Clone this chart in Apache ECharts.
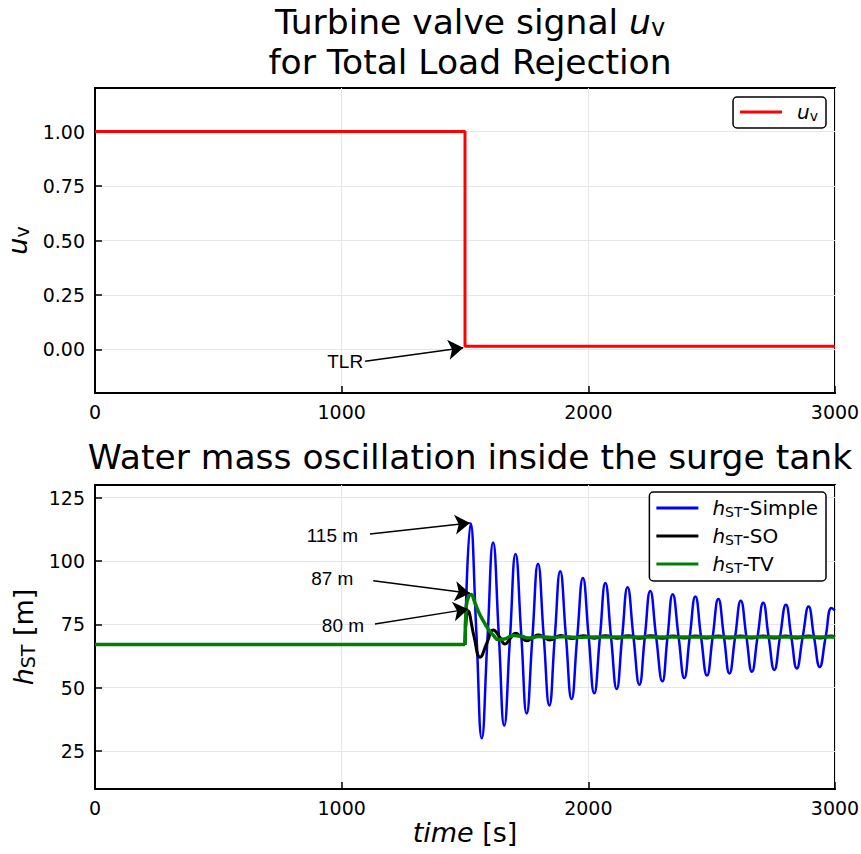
<!DOCTYPE html>
<html>
<head>
<meta charset="utf-8">
<script src="https://cdn.jsdelivr.net/npm/echarts@6/dist/echarts.min.js"></script>
<style>html,body{margin:0;padding:0;background:#fff}#c{width:861px;height:854px}</style>
</head>
<body>
<div id="c"></div>
<script>
// ---------- data ----------
const xTicks = [0, 1000, 2000, 3000];
const uTicks = [0, 0.25, 0.5, 0.75, 1.0];
const hTicks = [25, 50, 75, 100, 125];

// turbine valve signal (step at TLR)
const uvT = [0, 1500, 1500, 3000];
const uvV = [1.0, 1.0, 0.015, 0.015];

// initial steady level of all surge-tank models
const flatT = [0, 1500];
const flatV = [67, 67];

// h_ST - Simple model
const simpleT = [
  1500,1523,1546,1568,1591,1614,1637,1659,1682,1705,
  1728,1750,1773,1796,1819,1842,1864,1886,1909,1932,
  1955,1978,2001,2024,2047,2069,2092,2115,2137,2159,
  2183,2207,2229,2251,2275,2300,2321,2342,2366,2389,
  2411,2434,2457,2481,2504,2527,2550,2572,2595,2618,
  2641,2663,2686,2709,2731,2754,2777,2801,2823,2845,
  2869,2893,2915,2938,2962,2986,3000];
const simpleV = [
  67,114.8,72,30,69,107.3,71,35,69,102.8,
  71,39.8,69.5,98.9,70.5,43,70,96,70.5,45.5,
  70,93.3,70.5,47.8,70,91.3,70,49.5,70,89.6,
  70,51.2,70,88.2,70,52.5,70,86.9,70,53.8,
  70,86,70,54.8,70,85,70,55.6,70,84.3,
  70,56.3,70,83.5,70,57,70,82.7,70,57.6,
  70,82,70,58.2,70,81.4,80.5];

// h_ST - SO model
const soT = [1500,1513,1537,1561,1590,1615,1640,1662,1684,1705,1728,1750,1774,1797,1820,1842,
  1888,1932,1978,2024,2070,2115,2161,2207,2253,2300,2344,2389,2435,2480,2527,2571,2618,2662,
  2709,2754,2800,2845,2892,2939,2984,3000];
const soV = [67,80.3,70,62,68,72.8,70,67.2,69.5,71.5,70,68.5,69.8,70.8,70,68.8,
  70.6,69.4,70.5,69.5,70.5,69.5,70.45,69.55,70.45,69.55,70.4,69.6,70.4,69.6,70.4,69.6,70.4,69.6,
  70.35,69.65,70.35,69.65,70.35,69.65,70.35,70];

// h_ST - TV model
const tvT = [1500,1505,1515,1524,1540,1557,1574,1595,1615,1635,1660,1696,1730,1760,1800,1850,1900,1950,2000,2200,2400,2600,2800,3000];
const tvV = [67,82,86,86.8,83.5,79.5,76.4,73,70.7,69,69.2,70.6,70.2,69.6,70.2,69.8,70.1,69.9,70,70,70,70,70,70];

// annotations
const tlrText = 'TLR';
const tlrFrom = [1095, -0.054];
const tlrTo = [1493, 0.008];
const peakTexts = ['115 m', '87 m', '80 m'];
const peakFrom = [[1115, 110.7], [1128, 92.2], [1135, 75.1]];
const peakTo = [[1520, 115], [1520, 87.3], [1513, 81]];
const peakLabelGap = [12, 20, 11];

// ---------- helpers ----------
const zip = (a, b) => a.map((v, i) => [v, b[i]]);
const FONT = 'DejaVu Sans';
const ARIAL = 'Liberation Sans';
const sub = {
  i: { fontStyle: 'italic', fontSize: 20, fontFamily: FONT, color: '#000' },
  s: { fontSize: 14, fontFamily: FONT, color: '#000', padding: [8, 0, 0, 0] }
};
function axisCommonX(gridIndex, showName) {
  return {
    type: 'value', gridIndex, min: 0, max: 3000, interval: 1000,
    axisLine: { show: true, onZero: false, lineStyle: { color: '#000', width: 2 } },
    axisTick: { show: true, inside: true, length: 7, lineStyle: { color: '#000', width: 1.5 } },
    axisLabel: { color: '#000', fontSize: 19, fontFamily: FONT, margin: 9, formatter: v => String(v) },
    splitLine: { show: true, lineStyle: { color: '#e6e6e6', width: 1 } },
    name: showName ? '{i|time} [s]' : '',
    nameLocation: 'middle', nameGap: 30,
    nameTextStyle: { fontSize: 27, fontFamily: FONT, color: '#000',
      rich: { i: { fontStyle: 'italic', fontSize: 27, fontFamily: FONT, color: '#000' } } }
  };
}
function markArrow(from, to, text, gap) {
  return [
    { coord: from, name: text, label: { distance: gap } },
    { coord: to }
  ];
}
const markLineBase = {
  silent: true,
  symbol: ['none', 'arrow'],
  symbolSize: 15,
  animation: false,
  lineStyle: { color: '#000', width: 1.5, type: 'solid' },
  itemStyle: { color: '#000' },
  label: { show: true, position: 'start', formatter: '{b}', color: '#000', fontSize: 19, fontFamily: ARIAL },
  emphasis: { disabled: true }
};

const option = {
  animation: false,
  backgroundColor: '#fff',
  title: [
    {
      text: 'Turbine valve signal {u|u}{v|v}\nfor Total Load Rejection',
      left: 465, top: -3, textAlign: 'center',
      textStyle: { fontSize: 34.5, fontWeight: 'normal', fontFamily: FONT, color: '#000', lineHeight: 40,
        rich: { u: { fontStyle: 'italic', fontSize: 34.5, fontFamily: FONT, color: '#000', lineHeight: 40 },
                v: { fontSize: 24, fontFamily: FONT, color: '#000', padding: [12, 0, 0, 0] } } }
    },
    {
      text: 'Water mass oscillation inside the surge tank',
      left: 465, top: 432, textAlign: 'center',
      textStyle: { fontSize: 34.5, fontWeight: 'normal', fontFamily: FONT, color: '#000', lineHeight: 40 }
    }
  ],
  grid: [
    { left: 95, right: 26, top: 88, height: 305, show: true, borderColor: '#000', borderWidth: 2, backgroundColor: '#fff', containLabel: false, outerBoundsMode: 'none' },
    { left: 95, right: 26, top: 485, height: 304, show: true, borderColor: '#000', borderWidth: 2, backgroundColor: '#fff', containLabel: false, outerBoundsMode: 'none' }
  ],
  legend: [
    {
      data: ['uv'], right: 35, top: 97, orient: 'vertical',
      icon: 'rect', itemWidth: 42, itemHeight: 3,
      backgroundColor: '#fff', borderColor: '#000', borderWidth: 1.5, borderRadius: 4,
      padding: [5, 8, 5, 7],
      formatter: () => '{i|u}{s|v}',
      textStyle: { fontSize: 20, fontFamily: FONT, color: '#000', padding: [0, 0, 0, 10], rich: sub }
    },
    {
      data: ['hST-Simple', 'hST-SO', 'hST-TV'], right: 35, top: 492, orient: 'vertical',
      icon: 'rect', itemWidth: 42, itemHeight: 3, itemGap: 7,
      backgroundColor: '#fff', borderColor: '#000', borderWidth: 1.5, borderRadius: 4,
      padding: [6, 8, 6, 7],
      formatter: n => '{i|h}{s|ST}' + n.slice(3),
      textStyle: { fontSize: 20, fontFamily: FONT, color: '#000', padding: [0, 0, 0, 9], rich: sub }
    }
  ],
  xAxis: [axisCommonX(0, false), axisCommonX(1, true)],
  yAxis: [
    {
      type: 'value', gridIndex: 0, min: -0.2, max: 1.2,
      axisLine: { show: true, onZero: false, lineStyle: { color: '#000', width: 2 } },
      axisTick: { show: true, inside: true, length: 7, customValues: uTicks, lineStyle: { color: '#000', width: 1.5 } },
      axisLabel: { color: '#000', fontSize: 19, fontFamily: FONT, margin: 10, customValues: uTicks, formatter: v => v.toFixed(2) },
      splitLine: { show: true, lineStyle: { color: '#e6e6e6', width: 1 } },
      name: '{i|u}{s|v}', nameLocation: 'middle', nameGap: 53, nameRotate: 90,
      nameTextStyle: { fontSize: 27, fontFamily: FONT, color: '#000',
        rich: { i: { fontStyle: 'italic', fontSize: 27, fontFamily: FONT, color: '#000' },
                s: { fontSize: 19, fontFamily: FONT, color: '#000', padding: [9, 0, 0, 0] } } }
    },
    {
      type: 'value', gridIndex: 1, min: 10, max: 130,
      axisLine: { show: true, onZero: false, lineStyle: { color: '#000', width: 2 } },
      axisTick: { show: true, inside: true, length: 7, customValues: hTicks, lineStyle: { color: '#000', width: 1.5 } },
      axisLabel: { color: '#000', fontSize: 19, fontFamily: FONT, margin: 10, customValues: hTicks },
      splitLine: { show: true, lineStyle: { color: '#e6e6e6', width: 1 } },
      name: '{i|h}{s|ST} [m]', nameLocation: 'middle', nameGap: 47, nameRotate: 90,
      nameTextStyle: { fontSize: 27, fontFamily: FONT, color: '#000',
        rich: { i: { fontStyle: 'italic', fontSize: 27, fontFamily: FONT, color: '#000' },
                s: { fontSize: 19, fontFamily: FONT, color: '#000', padding: [9, 0, 0, 0] } } }
    }
  ],
  series: [
    {
      name: 'uv', type: 'line', xAxisIndex: 0, yAxisIndex: 0, data: zip(uvT, uvV),
      showSymbol: false, lineStyle: { color: '#ff0000', width: 3 }, itemStyle: { color: '#ff0000' },
      markLine: Object.assign({}, markLineBase, { data: [markArrow(tlrFrom, tlrTo, tlrText, 2)] })
    },
    {
      name: 'hST-Simple', type: 'line', xAxisIndex: 1, yAxisIndex: 1, data: zip(simpleT, simpleV),
      smooth: 0.5, showSymbol: false, lineStyle: { color: '#0000ff', width: 2.5 }, itemStyle: { color: '#0000ff' }
    },
    {
      name: 'hST-SO', type: 'line', xAxisIndex: 1, yAxisIndex: 1, data: zip(soT, soV),
      smooth: 0.5, showSymbol: false, lineStyle: { color: '#000000', width: 3 }, itemStyle: { color: '#000000' }
    },
    {
      name: 'hST-TV', type: 'line', xAxisIndex: 1, yAxisIndex: 1, data: zip(tvT, tvV),
      smooth: 0.5, showSymbol: false, lineStyle: { color: '#008000', width: 3.5 }, itemStyle: { color: '#008000' },
      markLine: Object.assign({}, markLineBase, {
        data: peakTexts.map((t, i) => markArrow(peakFrom[i], peakTo[i], t, peakLabelGap[i]))
      })
    },
    {
      name: 'hST-Simple', type: 'line', xAxisIndex: 1, yAxisIndex: 1, data: zip(flatT, flatV),
      showSymbol: false, lineStyle: { color: '#0000ff', width: 2.5 }, itemStyle: { color: '#0000ff' }
    },
    {
      name: 'hST-SO', type: 'line', xAxisIndex: 1, yAxisIndex: 1, data: zip(flatT, flatV),
      showSymbol: false, lineStyle: { color: '#000000', width: 3 }, itemStyle: { color: '#000000' }
    },
    {
      name: 'hST-TV', type: 'line', xAxisIndex: 1, yAxisIndex: 1, data: zip(flatT, flatV),
      showSymbol: false, lineStyle: { color: '#008000', width: 3.5 }, itemStyle: { color: '#008000' }
    }
  ]
};
const chart = echarts.init(document.getElementById('c'), null, { renderer: 'svg', width: 861, height: 854 });
chart.setOption(option);
</script>
</body>
</html>
